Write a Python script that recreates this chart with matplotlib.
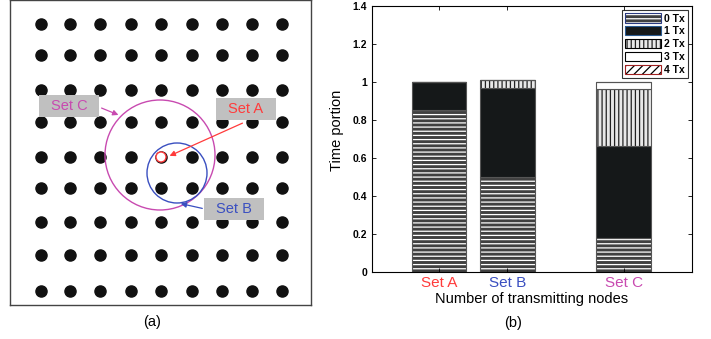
import numpy as np
import matplotlib
matplotlib.use("Agg")
import matplotlib.pyplot as plt
from matplotlib.patches import Patch, Rectangle, Circle

plt.rcParams['font.family'] = ['Liberation Sans', 'DejaVu Sans']

# panel (a): node grid (pixel-ish coordinates of the drawing)
node_x = [41, 70, 100, 131, 161, 192, 222, 252, 282]
node_y = [24, 55, 90, 122, 157, 188, 222, 255, 291]

# panel (b): time portion per number of transmitting nodes
categories = ['Set A', 'Set B', 'Set C']
cat_colors = ['#ff3b3b', '#3a4fc0', '#c84ab0']
tx0 = [0.853, 0.500, 0.178]
tx1 = [0.147, 0.468, 0.485]
tx2 = [0.000, 0.042, 0.300]
tx3 = [0.000, 0.000, 0.037]
tx4 = [0.000, 0.000, 0.000]
series_names = ['0 Tx', '1 Tx', '2 Tx', '3 Tx', '4 Tx']

fig = plt.figure(figsize=(7.11, 3.39), dpi=100)

# ---------------- (a) ----------------
axa = fig.add_axes([10/711, 1 - 305/339, 301/711, 305/339])
axa.set_xlim(10, 311)
axa.set_ylim(305, 0)
axa.set_xticks([])
axa.set_yticks([])
for s in axa.spines.values():
    s.set_color('#444444')
    s.set_linewidth(1.0)

gx, gy = np.meshgrid(node_x, node_y)
axa.plot(gx.ravel(), gy.ravel(), 'o', color='#111111', markersize=8, zorder=2)

axa.add_patch(Circle((160, 155), 55, fill=False, ec='#c84ab0', lw=1.0, zorder=3))
axa.add_patch(Circle((177, 173), 30, fill=False, ec='#3a4fc0', lw=1.0, zorder=3))
axa.add_patch(Circle((161, 157), 5, fc='white', ec='#ff3b3b', lw=1.0, zorder=4))

boxes = [('Set C', 39, 95, '#c84ab0', (99, 107), (121, 116)),
         ('Set A', 216, 98, '#ff3b3b', (245, 122), (167, 157)),
         ('Set B', 204, 198, '#3a4fc0', (205, 209), (178, 203))]
for label, bx, by, col, p0, p1 in boxes:
    axa.add_patch(Rectangle((bx, by), 60, 22, fc='#c0c0c0', ec='none', zorder=5))
    axa.text(bx + 30, by + 11, label, color=col, fontsize=10.5,
             ha='center', va='center', zorder=6)
    axa.annotate('', xy=p1, xytext=p0,
                 arrowprops=dict(arrowstyle='-|>', color=col, lw=0.9,
                                 mutation_scale=8), zorder=6)

fig.text(152/711, 1 - 322/339, '(a)', ha='center', va='center', fontsize=10.5)

# ---------------- (b) ----------------
axb = fig.add_axes([372/711, 1 - 272/339, 320/711, 266/339])
pos = [1, 2, 3.7]
w = 0.8

styles = [
    dict(fc='#404040', hatch='----', hc='white'),
    dict(fc='#151819', hatch='', hc='#151819'),
    dict(fc='#e8e8e8', hatch='||||', hc='#222222'),
    dict(fc='white', hatch='', hc='white'),
    dict(fc='white', hatch='////', hc='black'),
]
plt.rcParams['hatch.linewidth'] = 0.9

bottom = np.zeros(3)
for vals, st in zip([tx0, tx1, tx2, tx3, tx4], styles):
    vals = np.array(vals)
    axb.bar(pos, vals, w, bottom=bottom, color=st['fc'], edgecolor=st['hc'],
            hatch=st['hatch'], linewidth=0)
    axb.bar(pos, vals, w, bottom=bottom, fill=False, edgecolor='#555555',
            linewidth=0.8)
    bottom += vals

axb.set_xlim(0.02, 4.7)
axb.set_ylim(0, 1.4)
axb.set_yticks([0, 0.2, 0.4, 0.6, 0.8, 1, 1.2, 1.4])
axb.set_yticklabels(['0', '0.2', '0.4', '0.6', '0.8', '1', '1.2', '1.4'],
                    fontsize=7.5, fontweight='bold')
axb.set_xticks(pos)
axb.set_xticklabels(categories, fontsize=11)
for t, c in zip(axb.get_xticklabels(), cat_colors):
    t.set_color(c)
axb.tick_params(direction='in', top=True, right=True, length=3, width=0.6)
axb.tick_params(axis='x', pad=3)
for s in axb.spines.values():
    s.set_linewidth(0.8)
axb.set_ylabel('Time portion', fontsize=10.5)
axb.yaxis.set_label_coords(-0.088, 0.534)
axb.set_xlabel('Number of transmitting nodes', fontsize=10.5, labelpad=1)

edge_cols = ['#2a3a80', '#2a5a90', 'black', 'black', '#a02020']
handles = []
for st, ec in zip(styles, edge_cols):
    fillp = Patch(facecolor=st['fc'], edgecolor=st['hc'], hatch=st['hatch'],
                  linewidth=0)
    edgep = Patch(fill=False, edgecolor=ec, linewidth=0.8)
    handles.append((fillp, edgep))
leg = axb.legend(handles, series_names, loc='upper right',
                 prop={'weight': 'bold', 'size': 7.5}, frameon=True, fancybox=False,
                 edgecolor='black', handlelength=3.4, handleheight=1.0,
                 handletextpad=0.3, labelspacing=0.25, borderpad=0.3,
                 borderaxespad=0.4)
leg.get_frame().set_linewidth(0.8)

fig.text(513/711, 1 - 323/339, '(b)', ha='center', va='center', fontsize=10.5)

fig.savefig('out.png', dpi=100)
